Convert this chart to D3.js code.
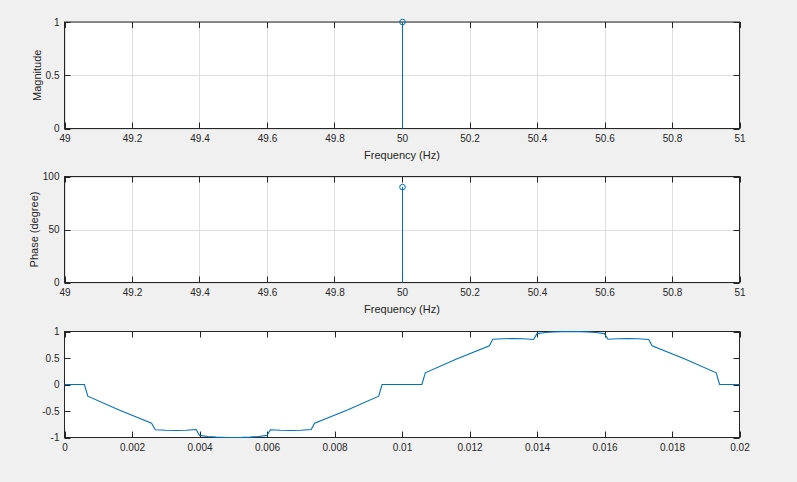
<!DOCTYPE html>
<html>
<head>
<meta charset="utf-8">
<script src="https://cdn.jsdelivr.net/npm/d3@7"></script>
<style>
  html, body { margin: 0; padding: 0; background: #f0f0f0; }
  svg { display: block; }
  text { font-family: "Liberation Sans", Arial, Helvetica, sans-serif; fill: #262626; }
</style>
</head>
<body>
<script>
// ---- data ----
const freqTicks = [49, 49.2, 49.4, 49.6, 49.8, 50, 50.2, 50.4, 50.6, 50.8, 51];
const magTicks = [0, 0.5, 1];
const phaseTicks = [0, 50, 100];
const stemFreq = [50];
const stemMag = [1];
const stemPhase = [90];
const timeTicks = [0, 0.002, 0.004, 0.006, 0.008, 0.01, 0.012, 0.014, 0.016, 0.018, 0.02];
const sigTicks = [-1, -0.5, 0, 0.5, 1];
// waveform samples (time in ms, amplitude)
const waveTimeMs = [0, 0.59, 0.69, 1.6, 2.58, 2.69, 3.0, 3.3, 3.6, 3.9, 4.0, 4.25, 4.5, 4.75, 5.0, 5.25, 5.5, 5.75, 6.0, 6.1, 6.4, 6.7, 7.0, 7.31, 7.41, 8.4, 9.31, 9.41,
                    10.59, 10.69, 11.6, 12.59, 12.69, 13.0, 13.3, 13.6, 13.9, 14.0, 14.25, 14.5, 14.75, 15.0, 15.25, 15.5, 15.75, 16.0, 16.1, 16.4, 16.7, 17.0, 17.31, 17.41, 18.4, 19.31, 19.41, 20];
const waveValue = [0, 0, -0.22, -0.475, -0.73, -0.855, -0.864, -0.868, -0.864, -0.85, -0.96, -0.98, -0.992, -0.998, -1.0, -0.998, -0.992, -0.98, -0.96, -0.855, -0.864, -0.868, -0.864, -0.85, -0.73, -0.475, -0.22, 0,
                   0, 0.22, 0.475, 0.73, 0.855, 0.864, 0.868, 0.864, 0.85, 0.96, 0.98, 0.992, 0.998, 1.0, 0.998, 0.992, 0.98, 0.96, 0.855, 0.864, 0.868, 0.864, 0.85, 0.73, 0.475, 0.22, 0, 0];

const W = 797, H = 482;
const blue = "#0072bd", axisCol = "#262626", gridCol = "#dfdfdf";
const svg = d3.select("body").append("svg").attr("width", W).attr("height", H);

const L = 64.5, R = 739.5;

function panel(opts) {
  const { top, bottom, xDomain, yDomain, xTicks, yTicks, xFmt, yFmt, grid, xLabel, yLabel } = opts;
  const x = d3.scaleLinear().domain(xDomain).range([L, R]);
  const y = d3.scaleLinear().domain(yDomain).range([bottom, top]);
  const g = svg.append("g");
  g.append("rect").attr("x", L).attr("y", top).attr("width", R - L).attr("height", bottom - top).attr("fill", "#fff");
  if (grid) {
    g.selectAll(".gx").data(xTicks).enter().append("line")
      .attr("x1", d => Math.round(x(d)) + 0.5).attr("x2", d => Math.round(x(d)) + 0.5)
      .attr("y1", top).attr("y2", bottom).attr("stroke", gridCol).attr("stroke-width", 1);
    g.selectAll(".gy").data(yTicks).enter().append("line")
      .attr("y1", d => Math.round(y(d)) + 0.5).attr("y2", d => Math.round(y(d)) + 0.5)
      .attr("x1", L).attr("x2", R).attr("stroke", gridCol).attr("stroke-width", 1);
  }
  const tl = 6;
  xTicks.forEach(d => {
    const xx = Math.round(x(d)) + 0.5;
    g.append("line").attr("x1", xx).attr("x2", xx).attr("y1", bottom).attr("y2", bottom - tl).attr("stroke", axisCol);
    g.append("line").attr("x1", xx).attr("x2", xx).attr("y1", top).attr("y2", top + tl).attr("stroke", axisCol);
  });
  yTicks.forEach(d => {
    const yy = Math.round(y(d)) + 0.5;
    g.append("line").attr("x1", L).attr("x2", L + tl).attr("y1", yy).attr("y2", yy).attr("stroke", axisCol);
    g.append("line").attr("x1", R).attr("x2", R - tl).attr("y1", yy).attr("y2", yy).attr("stroke", axisCol);
  });
  const xa = d3.axisBottom(x).tickValues(xTicks).tickFormat(xFmt).tickSize(0).tickPadding(6);
  const gx = g.append("g").attr("transform", `translate(0,${bottom})`).call(xa);
  gx.select(".domain").remove();
  gx.selectAll("text").attr("font-size", 10).attr("fill", axisCol).style("font-family", '"Liberation Sans", Arial, sans-serif');
  const ya = d3.axisLeft(y).tickValues(yTicks).tickFormat(yFmt).tickSize(0).tickPadding(5);
  const gy = g.append("g").attr("transform", `translate(${L},0)`).call(ya);
  gy.select(".domain").remove();
  gy.selectAll("text").attr("font-size", 10).attr("fill", axisCol).style("font-family", '"Liberation Sans", Arial, sans-serif');
  g.append("rect").attr("x", L).attr("y", top).attr("width", R - L).attr("height", bottom - top)
    .attr("fill", "none").attr("stroke", axisCol).attr("stroke-width", 1);
  if (xLabel) {
    g.append("text").attr("x", (L + R) / 2).attr("y", bottom + 30).attr("text-anchor", "middle")
      .attr("font-size", 11).text(xLabel);
  }
  if (yLabel) {
    g.append("text").attr("transform", `translate(${opts.yLabelX},${(top + bottom) / 2}) rotate(-90)`)
      .attr("text-anchor", "middle").attr("font-size", 11).text(yLabel);
  }
  return { g, x, y };
}

const fmtFreq = d => String(+d.toFixed(1));
const fmtPlain = d => String(+d.toFixed(3));

const p1 = panel({ top: 22, bottom: 128.5, xDomain: [49, 51], yDomain: [0, 1], xTicks: freqTicks, yTicks: magTicks,
  xFmt: fmtFreq, yFmt: fmtPlain, grid: true, xLabel: "Frequency (Hz)", yLabel: "Magnitude", yLabelX: 41 });
stemFreq.forEach((f, i) => {
  const xx = Math.round(p1.x(f)) + 0.5;
  p1.g.append("line").attr("x1", xx).attr("x2", xx).attr("y1", p1.y(0)).attr("y2", p1.y(stemMag[i]))
    .attr("stroke", blue).attr("stroke-width", 1);
  p1.g.append("circle").attr("cx", xx).attr("cy", p1.y(stemMag[i])).attr("r", 2.8)
    .attr("fill", "none").attr("stroke", blue).attr("stroke-width", 1);
});

const p2 = panel({ top: 176.5, bottom: 282.5, xDomain: [49, 51], yDomain: [0, 100], xTicks: freqTicks, yTicks: phaseTicks,
  xFmt: fmtFreq, yFmt: fmtPlain, grid: true, xLabel: "Frequency (Hz)", yLabel: "Phase (degree)", yLabelX: 38 });
stemFreq.forEach((f, i) => {
  const xx = Math.round(p2.x(f)) + 0.5;
  p2.g.append("line").attr("x1", xx).attr("x2", xx).attr("y1", p2.y(0)).attr("y2", p2.y(stemPhase[i]))
    .attr("stroke", blue).attr("stroke-width", 1);
  p2.g.append("circle").attr("cx", xx).attr("cy", p2.y(stemPhase[i])).attr("r", 2.8)
    .attr("fill", "none").attr("stroke", blue).attr("stroke-width", 1);
});

const p3 = panel({ top: 331.5, bottom: 437.5, xDomain: [0, 0.02], yDomain: [-1, 1], xTicks: timeTicks, yTicks: sigTicks,
  xFmt: fmtPlain, yFmt: fmtPlain, grid: false });
const wave = waveTimeMs.map((t, i) => [t / 1000, waveValue[i]]);
p3.g.append("path").datum(wave)
  .attr("d", d3.line().x(d => p3.x(d[0])).y(d => p3.y(d[1])))
  .attr("fill", "none").attr("stroke", blue).attr("stroke-width", 1.1);
</script>
</body>
</html>
